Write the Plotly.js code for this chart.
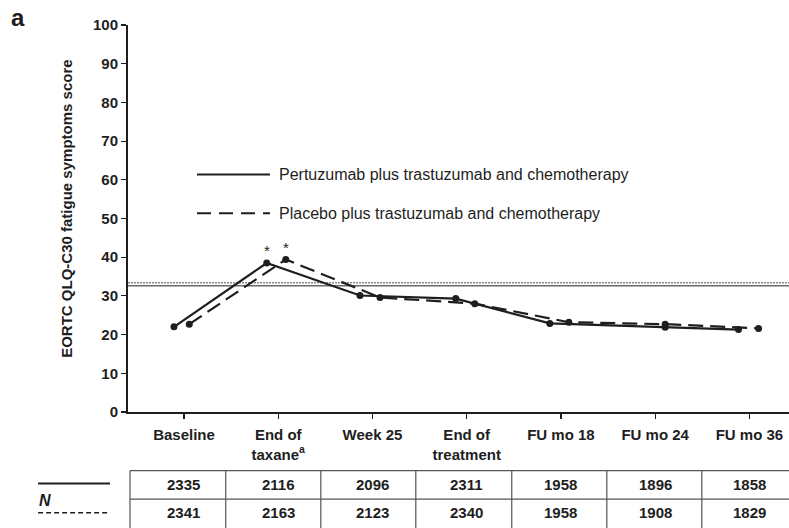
<!DOCTYPE html>
<html>
<head>
<meta charset="utf-8">
<script src="https://cdn.plot.ly/plotly-3.0.1.min.js"></script>
<style>html,body{margin:0;padding:0;background:#fff;}#chart{width:789px;height:528px;}</style>
</head>
<body>
<div id="chart"></div>
<script>
// ---- data ----
const categories = ["Baseline", "End of<br>taxane<sup>a</sup>", "Week 25", "End of<br>treatment", "FU mo 18", "FU mo 24", "FU mo 36"];
const seriesNames = ["Pertuzumab plus trastuzumab and chemotherapy", "Placebo plus trastuzumab and chemotherapy"];
const pertuzumabScore = [22.0, 38.5, 30.1, 29.3, 22.9, 21.9, 21.3];
const placeboScore = [22.7, 39.4, 29.6, 28.0, 23.2, 22.7, 21.6];
const pertuzumabX = [-0.106, 0.878, 1.868, 2.884, 3.882, 5.106, 5.884];
const placeboX = [0.056, 1.08, 2.08, 3.086, 4.084, 5.106, 6.097];
const pertuzumabN = [2335, 2116, 2096, 2311, 1958, 1896, 1858];
const placeboN = [2341, 2163, 2123, 2340, 1958, 1908, 1829];
const significant = [false, true, false, false, false, false, false];
const refLineSolid = 32.6;
const refLineDotted = 33.4;
const yTicks = [0, 10, 20, 30, 40, 50, 60, 70, 80, 90, 100];

const FONT = "Liberation Sans, Arial, Helvetica, sans-serif";
const INK = "#1e1e1e";

const traces = [
  {x: pertuzumabX, y: pertuzumabScore, mode: "lines+markers", name: seriesNames[0],
   line: {color: INK, width: 2.2}, marker: {color: INK, size: 7}},
  {x: placeboX, y: placeboScore, mode: "lines+markers", name: seriesNames[1],
   line: {color: INK, width: 2.2, dash: "15px,7px"}, marker: {color: INK, size: 7}}
];

const shapes = [
  {type: "line", xref: "paper", x0: 0, x1: 1, yref: "y", y0: refLineDotted, y1: refLineDotted,
   line: {color: "#8a8a8a", width: 1.5, dash: "2px,1px"}, layer: "below"},
  {type: "line", xref: "paper", x0: 0, x1: 1, yref: "y", y0: refLineSolid, y1: refLineSolid,
   line: {color: "#6a6a6a", width: 1.5}, layer: "below"},
  // legend samples inside plot
  {type: "line", xref: "paper", yref: "paper", x0: 0.1044, x1: 0.2148, y0: 0.614, y1: 0.614,
   line: {color: INK, width: 2}},
  {type: "line", xref: "paper", yref: "paper", x0: 0.1044, x1: 0.2148, y0: 0.5135, y1: 0.5135,
   line: {color: INK, width: 2, dash: "14px,8px"}},
  // N legend samples
  {type: "line", xref: "paper", yref: "paper", x0: -0.136, x1: -0.0272, y0: -0.185, y1: -0.185,
   line: {color: INK, width: 2}},
  {type: "line", xref: "paper", yref: "paper", x0: -0.136, x1: -0.0272, y0: -0.2606, y1: -0.2606,
   line: {color: INK, width: 1.5, dash: "5px,3px"}}
];

// N table grid
const tableTop = -0.1515, tableMid = -0.2253, tableBottom = -0.31;
shapes.push({type: "line", xref: "x", yref: "paper", x0: -0.573, x1: 6.6, y0: tableTop, y1: tableTop,
  line: {color: "#555", width: 1.2}});
shapes.push({type: "line", xref: "x", yref: "paper", x0: -0.573, x1: 6.6, y0: tableMid, y1: tableMid,
  line: {color: "#555", width: 1.2}});
const dividers = [-0.573, 0.443, 1.452, 2.46, 3.478, 4.487, 5.495];
dividers.forEach(d => shapes.push({type: "line", xref: "x", yref: "paper", x0: d, x1: d,
  y0: tableTop, y1: tableBottom, line: {color: "#555", width: 1.2}}));

const annotations = [];
categories.forEach((c, i) => {
  annotations.push({x: i, xref: "x", y: -0.1884, yref: "paper", xanchor: "center", yanchor: "middle",
    text: "<b>" + pertuzumabN[i] + "</b>", showarrow: false, font: {family: FONT, size: 15, color: INK}});
  annotations.push({x: i, xref: "x", y: -0.2606, yref: "paper", xanchor: "center", yanchor: "middle",
    text: "<b>" + placeboN[i] + "</b>", showarrow: false, font: {family: FONT, size: 15, color: INK}});
  if (significant[i]) {
    annotations.push({x: pertuzumabX[i], y: pertuzumabScore[i], xref: "x", yref: "y", text: "*",
      showarrow: false, xanchor: "center", yanchor: "bottom", yshift: 2, font: {family: FONT, size: 15, color: INK}});
    annotations.push({x: placeboX[i], y: placeboScore[i], xref: "x", yref: "y", text: "*",
      showarrow: false, xanchor: "center", yanchor: "bottom", yshift: 2, font: {family: FONT, size: 15, color: INK}});
  }
});
annotations.push({xref: "paper", yref: "paper", x: 0.225, y: 0.614, xanchor: "left", yanchor: "middle",
  text: seriesNames[0], showarrow: false, font: {family: FONT, size: 16, color: INK}});
annotations.push({xref: "paper", yref: "paper", x: 0.225, y: 0.5135, xanchor: "left", yanchor: "middle",
  text: seriesNames[1], showarrow: false, font: {family: FONT, size: 16, color: INK}});
annotations.push({xref: "paper", yref: "paper", x: -0.0923, y: 0.525, xanchor: "center", yanchor: "middle",
  textangle: -90, text: "<b>EORTC QLQ-C30 fatigue symptoms score</b>", showarrow: false,
  font: {family: FONT, size: 15, color: INK}});
annotations.push({xref: "paper", yref: "paper", x: -0.1256, y: -0.2297, xanchor: "center", yanchor: "middle",
  text: "<b><i>N</i></b>", showarrow: false, font: {family: FONT, size: 16, color: INK}});
annotations.push({xref: "paper", yref: "paper", x: -0.1664, y: 1.019, xanchor: "center", yanchor: "middle",
  text: "<b>a</b>", showarrow: false, font: {family: FONT, size: 24, color: INK}});

const layout = {
  width: 789, height: 528,
  margin: {l: 128, r: 0, t: 24.5, b: 116, pad: 0},
  paper_bgcolor: "#fff", plot_bgcolor: "#fff",
  showlegend: false,
  font: {family: FONT, color: INK},
  xaxis: {range: [-0.594, 6.42], tickvals: categories.map((c, i) => i), ticktext: categories.map(c => "<b>" + c + "</b>"),
    showgrid: false, zeroline: false, showline: true, linecolor: INK, linewidth: 2,
    ticks: "outside", ticklen: 5, tickwidth: 1.2, tickcolor: INK, ticklabelstandoff: 3,
    tickfont: {family: FONT, size: 15, color: INK}, fixedrange: true},
  yaxis: {range: [0, 100], tickvals: yTicks, ticktext: yTicks.map(v => "<b>" + v + "</b>"),
    showgrid: false, zeroline: false, showline: true, linecolor: INK, linewidth: 2,
    ticks: "outside", ticklen: 5, tickwidth: 1.2, tickcolor: INK,
    tickfont: {family: FONT, size: 15, color: INK}, fixedrange: true},
  shapes: shapes,
  annotations: annotations
};

Plotly.newPlot("chart", traces, layout, {displayModeBar: false, staticPlot: true});
</script>
</body>
</html>
